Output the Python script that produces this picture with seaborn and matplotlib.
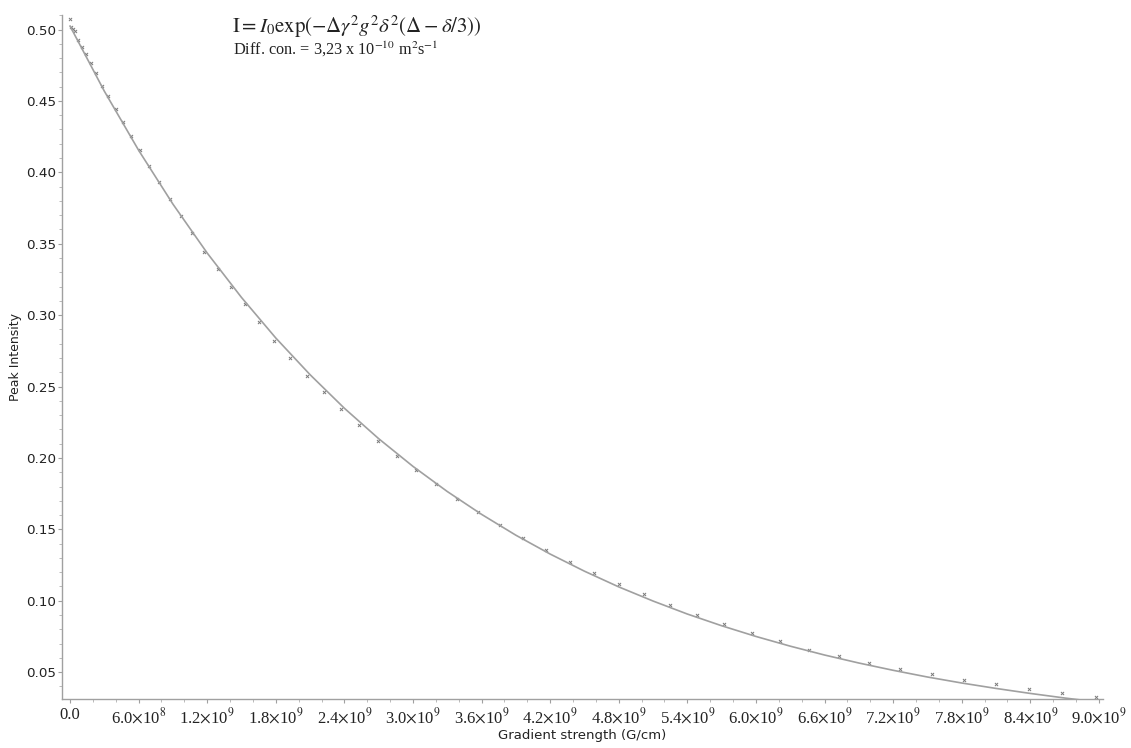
import matplotlib
matplotlib.use("Agg")
import matplotlib.pyplot as plt
import seaborn as sns
import pandas as pd
from matplotlib.ticker import FixedLocator, MultipleLocator

# ---------------- data ----------------
gradient = [0.0, 8.7e6, 2.4e7, 4.4e7, 7.3e7, 1.05e8, 1.40e8, 1.81e8, 2.25e8, 2.83e8,
            3.35e8, 4.02e8, 4.66e8, 5.34e8, 6.12e8, 6.94e8, 7.78e8, 8.75e8, 9.71e8, 1.070e9,
            1.175e9, 1.292e9, 1.408e9, 1.531e9, 1.656e9, 1.787e9, 1.927e9, 2.070e9, 2.222e9, 2.373e9,
            2.530e9, 2.691e9, 2.857e9, 3.029e9, 3.204e9, 3.385e9, 3.571e9, 3.765e9, 3.959e9, 4.163e9,
            4.373e9, 4.583e9, 4.799e9, 5.018e9, 5.248e9, 5.484e9, 5.723e9, 5.967e9, 6.212e9, 6.461e9,
            6.723e9, 6.988e9, 7.259e9, 7.536e9, 7.816e9, 8.101e9, 8.385e9, 8.679e9, 8.973e9]
intensity = [0.5071, 0.5015, 0.5004, 0.4992, 0.4926, 0.4875, 0.4828, 0.4763, 0.4693, 0.4606,
             0.4536, 0.4441, 0.4350, 0.4254, 0.4154, 0.4046, 0.3934, 0.3813, 0.3696, 0.3573,
             0.3444, 0.3323, 0.3199, 0.3076, 0.2950, 0.2821, 0.2699, 0.2576, 0.2459, 0.2340,
             0.2230, 0.2120, 0.2015, 0.1913, 0.1815, 0.1712, 0.1619, 0.1527, 0.1439, 0.1355,
             0.1269, 0.1196, 0.1117, 0.1045, 0.0968, 0.0900, 0.0837, 0.0772, 0.0718, 0.0657,
             0.0615, 0.0566, 0.0521, 0.0485, 0.0445, 0.0415, 0.0384, 0.0356, 0.0328]

fit_x = [0.0, 0.3e9, 0.6e9, 0.9e9, 1.2e9, 1.5e9, 1.8e9, 2.1e9, 2.4e9, 2.7e9, 3.0e9,
         3.3e9, 3.6e9, 3.9e9, 4.2e9, 4.5e9, 4.8e9, 5.1e9, 5.4e9, 5.7e9, 6.0e9,
         6.3e9, 6.6e9, 6.9e9, 7.2e9, 7.5e9, 7.8e9, 8.1e9, 8.4e9, 8.7e9, 9.0e9]
fit_y = [0.5025, 0.4569, 0.4155, 0.3778, 0.3435, 0.3124, 0.2840, 0.2583, 0.2348, 0.2135, 0.1941,
         0.1765, 0.1605, 0.1459, 0.1327, 0.1207, 0.1097, 0.0998, 0.0907, 0.0825, 0.0750,
         0.0682, 0.0620, 0.0564, 0.0513, 0.0466, 0.0424, 0.0386, 0.0351, 0.0319, 0.0290]

x_ticks = [0.0, 6.0e8, 1.2e9, 1.8e9, 2.4e9, 3.0e9, 3.6e9, 4.2e9, 4.8e9, 5.4e9,
           6.0e9, 6.6e9, 7.2e9, 7.8e9, 8.4e9, 9.0e9]
x_tick_labels = ["0.0", r"6.0$\times$10$^{8}$", r"1.2$\times$10$^{9}$", r"1.8$\times$10$^{9}$",
                 r"2.4$\times$10$^{9}$", r"3.0$\times$10$^{9}$", r"3.6$\times$10$^{9}$",
                 r"4.2$\times$10$^{9}$", r"4.8$\times$10$^{9}$", r"5.4$\times$10$^{9}$",
                 r"6.0$\times$10$^{9}$", r"6.6$\times$10$^{9}$", r"7.2$\times$10$^{9}$",
                 r"7.8$\times$10$^{9}$", r"8.4$\times$10$^{9}$", r"9.0$\times$10$^{9}$"]
y_ticks = [0.05, 0.10, 0.15, 0.20, 0.25, 0.30, 0.35, 0.40, 0.45, 0.50]
y_tick_labels = ["0.05", "0.10", "0.15", "0.20", "0.25", "0.30", "0.35", "0.40", "0.45", "0.50"]

x_label = "Gradient strength (G/cm)"
y_label = "Peak Intensity"
formula_text = r"$\mathrm{I} = I_0\mathrm{exp}(-\Delta\gamma^2 g^2\delta^2(\Delta-\delta/3))$"
diff_text = r"Diff. con. = 3,23 x 10$^{\mathrm{-10}}$ m$^{\mathrm{2}}$s$^{\mathrm{-1}}$"

# ---------------- plot ----------------
sns.set_theme(style="white")
plt.rcParams["font.family"] = ["DejaVu Sans"]
plt.rcParams["mathtext.fontset"] = "stix"

pts = pd.DataFrame({"g": gradient, "I": intensity})
fit = pd.DataFrame({"g": fit_x, "I": fit_y})

fig = plt.figure(figsize=(11.31, 7.48), dpi=100)
ax = fig.add_axes([0.0548, 0.0655, 0.9204, 0.9145])

sns.lineplot(data=fit, x="g", y="I", ax=ax, color="#a0a0a0", linewidth=1.2)
sns.scatterplot(data=pts, x="g", y="I", ax=ax, marker="x", s=5, color="#7a7a7a",
                linewidth=0.7)

ax.set_xlim(-7.0e7, 9.035e9)
ax.set_ylim(0.0312, 0.5102)

for s in ["top", "right"]:
    ax.spines[s].set_visible(False)
for s in ["left", "bottom"]:
    ax.spines[s].set_color("#a0a0a0")
    ax.spines[s].set_linewidth(1.0)

ax.xaxis.set_major_locator(FixedLocator(x_ticks))
ax.set_xticklabels(x_tick_labels, fontfamily="Liberation Serif", fontsize=12, color="#222222")
ax.xaxis.set_minor_locator(MultipleLocator(2e8))
ax.yaxis.set_major_locator(FixedLocator(y_ticks))
ax.set_yticklabels(y_tick_labels, fontsize=9.7, color="#222222")
ax.yaxis.set_minor_locator(MultipleLocator(0.01))

ax.tick_params(axis="both", which="major", direction="out", length=3, width=0.8,
               color="#a0a0a0", bottom=True, left=True)
ax.tick_params(axis="both", which="minor", direction="out", length=2, width=0.6,
               color="#b0b0b0", bottom=True, left=True)
ax.tick_params(axis="x", pad=3)
ax.tick_params(axis="y", pad=1)

ax.set_xlabel(x_label, fontsize=9.5, color="#222222", labelpad=1)
ax.set_ylabel(y_label, fontsize=9, color="#222222", labelpad=3)

fig.text(232 / 1131, 1 - 33 / 748, formula_text, fontsize=15, color="#222222",
         ha="left", va="baseline")
fig.text(233 / 1131, 1 - 55 / 748, diff_text, fontsize=11.7, color="#222222",
         ha="left", va="baseline", fontfamily="Liberation Serif")

fig.savefig("out.png", dpi=100, facecolor="white")
